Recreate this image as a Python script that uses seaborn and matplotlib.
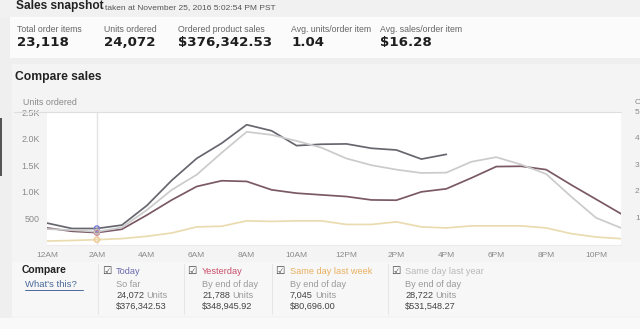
import numpy as np
import pandas as pd
import matplotlib
matplotlib.use("Agg")
import matplotlib.pyplot as plt
from matplotlib.patches import Rectangle
from matplotlib.lines import Line2D
import seaborn as sns

# ---------------- data ----------------
hour_labels = ["12AM", "2AM", "4AM", "6AM", "8AM", "10AM",
               "12PM", "2PM", "4PM", "6PM", "8PM", "10PM"]
hours = list(range(24))
today = [412, 310, 310, 374, 741, 1216, 1628, 1913, 2261, 2147, 1868, 1894,
         1900, 1818, 1786, 1615, 1704]
yesterday = [321, 258, 233, 296, 562, 847, 1100, 1208, 1195, 1037, 974, 942,
             911, 847, 842, 999, 1056, 1259, 1474, 1480, 1417, 1132, 860, 587]
last_week = [74, 85, 100, 120, 163, 226, 340, 353, 454, 443, 454, 454,
             386, 386, 435, 340, 321, 359, 359, 359, 321, 214, 150, 119]
last_year = [300, 280, 250, 330, 657, 1037, 1322, 1734, 2127, 2070, 1956, 1829,
             1626, 1500, 1417, 1354, 1360, 1564, 1651, 1512, 1335, 911, 511, 321]
y_ticks = [500, 1000, 1500, 2000, 2500]
y_tick_labels = ["500", "1.0K", "1.5K", "2.0K", "2.5K"]
right_tick_labels = ["1", "2", "3", "4", "5"]
right_axis_title = "C"

metric_labels = ["Total order items", "Units ordered", "Ordered product sales",
                 "Avg. units/order item", "Avg. sales/order item"]
metric_values = ["23,118", "24,072", "$376,342.53", "1.04", "$16.28"]

series_names = ["Today", "Yesterday", "Same day last week", "Same day last year"]
series_sub = ["So far", "By end of day", "By end of day", "By end of day"]
series_units = ["24,072", "21,788", "7,045", "28,722"]
series_sales = ["$376,342.53", "$348,945.92", "$80,696.00", "$531,548.27"]

line_colors = {"Today": "#66666f", "Yesterday": "#7a5866",
               "Same day last week": "#eadcb0", "Same day last year": "#cbcbcb"}
label_colors = ["#6a6ab0", "#c8506a", "#e8b060", "#b8b8b8"]
marker_colors = ["#7a7ad8", "#d87080", "#f0c890", "#c0c0c0"]

rows = []
for name, vals in zip(series_names, [today, yesterday, last_week, last_year]):
    for h, v in zip(hours, vals):
        rows.append({"hour": h, "units": v, "series": name})
df = pd.DataFrame(rows)

# ---------------- figure ----------------
sns.set_theme(style="white")
plt.rcParams["font.family"] = ["Liberation Sans", "DejaVu Sans"]

W, H = 640, 329
fig = plt.figure(figsize=(W / 100, H / 100), dpi=100)
fig.patch.set_facecolor("#efefef")


def fx(x):
    return x / W


def fy(y):
    return 1 - y / H


def rect(x0, y0, x1, y1, color, z=0):
    fig.add_artist(Rectangle((fx(x0), fy(y1)), fx(x1) - fx(x0), fy(y0) - fy(y1),
                             transform=fig.transFigure, facecolor=color,
                             edgecolor="none", zorder=z))


def txt(x, y, s, size, color="#333333", weight="normal", ha="left", family=None, **kw):
    kws = dict(fontsize=size, color=color, weight=weight, ha=ha, va="center")
    if family:
        kws["family"] = family
    kws.update(kw)
    return fig.text(fx(x), fy(y), s, **kws)


# background blocks
rect(0, 0, 640, 17, "#f1f1f1")
rect(10, 17, 640, 58, "#fbfbfb")
rect(12, 64, 640, 320, "#f4f4f4")
rect(12, 262, 640, 316, "#f7f7f7")
rect(0, 318, 640, 329, "#f9f9f9")
rect(0, 118, 2, 176, "#555555")

# header
txt(16, 6.5, "Sales snapshot", 8.6, color="#222222", weight="bold")
txt(105, 7.5, "taken at November 25, 2016 5:02:54 PM PST", 6.0, color="#555555")
metric_x = [17, 104, 178, 291, 380]
for x, lab, val in zip(metric_x, metric_labels, metric_values):
    txt(x, 29, lab, 6.3, color="#666666")
    txt(x, 42.5, val, 9.6, color="#1e1e1e", weight="bold", family=["DejaVu Sans"])

txt(15, 77, "Compare sales", 8.7, color="#222222", weight="bold")
txt(23, 102.5, "Units ordered", 6.4, color="#8a8a8a")

# top separator line of chart
fig.add_artist(Line2D([fx(14), fx(621)], [fy(112), fy(112)], transform=fig.transFigure,
                      color="#dedede", lw=0.8))

# ---------------- chart ----------------
ax = fig.add_axes([fx(47), fy(245), fx(621) - fx(47), fy(112) - fy(245)])
ax.set_facecolor("white")
ax.axvline(2, color="#e4e4e4", lw=1.0, zorder=0)
sns.lineplot(data=df, x="hour", y="units", hue="series", hue_order=series_names,
             palette=line_colors, linewidth=1.25, legend=False, sort=False, ax=ax)
for name, vals, mc in zip(series_names, [today, yesterday, last_week, last_year], marker_colors):
    ax.scatter([hours[2]], [vals[2]], s=14, facecolor="none", edgecolor=mc, lw=1.0, zorder=5)

ax.set_xlim(0, 23)
ax.set_ylim(0, 2500)
ax.set_xticks(list(range(0, 24, 2)))
ax.set_xticklabels(hour_labels, fontsize=6.0, color="#8a8a8a")
ax.set_yticks(y_ticks)
ax.set_yticklabels(y_tick_labels, fontsize=6.4, color="#8a8a8a")
ax.tick_params(axis="both", length=0)
ax.tick_params(axis="x", pad=5)
ax.tick_params(axis="y", pad=5)
ax.set_xlabel("")
ax.set_ylabel("")
for s in ["top", "left", "right"]:
    ax.spines[s].set_visible(False)
ax.spines["bottom"].set_color("#ececec")
ax.spines["bottom"].set_linewidth(0.8)
ax.grid(False)

# right axis (only its first characters are visible at the edge)
txt(634.5, 103, right_axis_title, 6.0, color="#8a8a8a")
for v, lab in zip(y_ticks, right_tick_labels):
    yy = 245 - (v / 2500) * (245 - 112)
    txt(635, yy, lab, 6.0, color="#8a8a8a")

# ---------------- compare legend ----------------
txt(22, 270, "Compare", 7.5, color="#222222", weight="bold")
t = txt(25, 284.5, "What's this?", 6.8, color="#4a6a9a")
fig.add_artist(Line2D([fx(25), fx(82.5)], [fy(289.5), fy(289.5)], transform=fig.transFigure,
                      color="#4a6a9a", lw=0.7))

col_box_x = [106.5, 192, 280, 396]
col_text_x = [116, 202, 289.5, 405]
sep_x = [98, 184, 272, 388]
for sx in sep_x:
    fig.add_artist(Line2D([fx(sx), fx(sx)], [fy(264), fy(314)], transform=fig.transFigure,
                          color="#e6e6e6", lw=0.8))
for i in range(4):
    bx, tx = col_box_x[i], col_text_x[i]
    txt(bx, 270.5, "\u2611", 7.5, color="#444444", ha="center", family=["DejaVu Sans"])
    txt(tx, 272, series_names[i], 6.6, color=label_colors[i])
    txt(tx, 284.5, series_sub[i], 6.6, color="#9a9a9a")
    u = txt(tx, 295.5, series_units[i], 6.6, color="#444444")
    fig.canvas.draw()
    bb = u.get_window_extent()
    fig.text(bb.x1 / fig.dpi / fig.get_figwidth() + 2.5 / W, fy(295.5), "Units",
             fontsize=6.6, color="#9a9a9a", ha="left", va="center")
    txt(tx, 306, series_sales[i], 6.6, color="#444444")

fig.savefig("out.png", dpi=100, facecolor=fig.get_facecolor())
